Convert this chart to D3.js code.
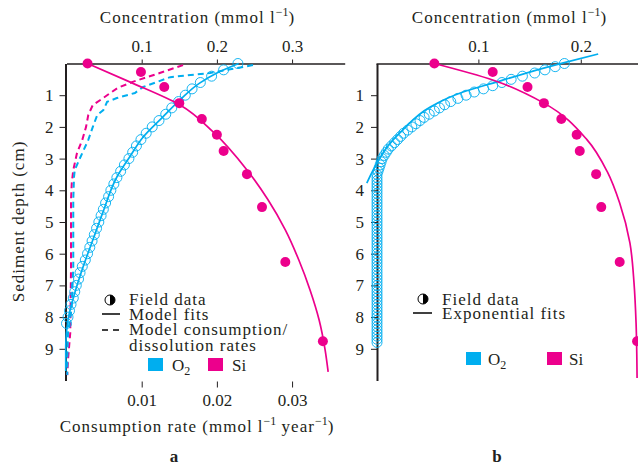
<!DOCTYPE html>
<html>
<head>
<meta charset="utf-8">
<script src="https://cdn.jsdelivr.net/npm/d3@7"></script>
<style>
  body { margin: 0; background: #fff; }
</style>
</head>
<body>
<svg id="chart" width="638" height="468"></svg>
<script>
const O2_COLOR = '#00aeef';
const SI_COLOR = '#ec008c';
const INK = '#231f20';
const SERIF = '"Liberation Serif", "DejaVu Serif", serif';

// --- Data (depth in cm, concentration in mmol/l, rate in mmol/l/yr) ---
const depthTicks = [1, 2, 3, 4, 5, 6, 7, 8, 9];
const concTicksA = [0.1, 0.2, 0.3];
const concTicksB = [0.1, 0.2];
const rateTicks = [0.01, 0.02, 0.03];

// Si field data (same sampling depths in both cores)
const siDepth = [0, 0.27, 0.74, 1.25, 1.75, 2.25, 2.76, 3.49, 4.53, 6.26, 8.76];
const siConcA = [0.028, 0.099, 0.130, 0.150, 0.180, 0.200, 0.209, 0.240, 0.260, 0.291, 0.341];
const siConcB = [0.057, 0.114, 0.148, 0.164, 0.181, 0.196, 0.199, 0.215, 0.220, 0.238, 0.255];

// O2 field data, panel a
const o2DepthA = [0, 0.2, 0.4, 0.6, 0.8, 1.0, 1.2, 1.4, 1.6, 1.8, 2.0, 2.2, 2.4, 2.6, 2.8,
  3.0, 3.2, 3.4, 3.6, 3.8, 4.0, 4.2, 4.4, 4.6, 4.8, 5.0, 5.2, 5.4, 5.6, 5.8,
  6.0, 6.2, 6.4, 6.6, 6.8, 7.0, 7.2, 7.4, 7.6, 7.8, 8.0, 8.2];
const o2ConcA = [0.228, 0.209, 0.193, 0.178, 0.167, 0.158, 0.149, 0.140, 0.132, 0.123, 0.114, 0.106, 0.099, 0.093, 0.088,
  0.083, 0.077, 0.072, 0.067, 0.063, 0.059, 0.056, 0.052, 0.049, 0.046, 0.043, 0.040, 0.037, 0.034, 0.031,
  0.028, 0.025, 0.021, 0.018, 0.016, 0.013, 0.011, 0.009, 0.006, 0.004, 0.002, 0.000];

// O2 field data, panel b
const o2DepthB = [0, 0.1, 0.2, 0.3, 0.4, 0.5, 0.6, 0.7, 0.8, 0.9, 1.0, 1.1, 1.2, 1.3, 1.4, 1.5, 1.6, 1.7, 1.8, 1.9,
  2.0, 2.1, 2.2, 2.3, 2.4, 2.5, 2.6, 2.7, 2.8, 2.9, 3.0, 3.1, 3.2, 3.3, 3.4, 3.5, 3.6, 3.7, 3.8, 3.9,
  4.0, 4.1, 4.2, 4.3, 4.4, 4.5, 4.6, 4.7, 4.8, 4.9, 5.0, 5.1, 5.2, 5.3, 5.4, 5.5, 5.6, 5.7, 5.8, 5.9,
  6.0, 6.1, 6.2, 6.3, 6.4, 6.5, 6.6, 6.7, 6.8, 6.9, 7.0, 7.1, 7.2, 7.3, 7.4, 7.5, 7.6, 7.7, 7.8, 7.9,
  8.0, 8.1, 8.2, 8.3, 8.4, 8.5, 8.6, 8.7, 8.8];
const o2ConcB = [0.184, 0.175, 0.165, 0.155, 0.143, 0.132, 0.123, 0.114, 0.105, 0.096, 0.088, 0.080, 0.073, 0.067, 0.062, 0.057, 0.052, 0.047, 0.043, 0.039,
  0.035, 0.031, 0.027, 0.024, 0.021, 0.018, 0.015, 0.012, 0.010, 0.008, 0.006, 0.005, 0.004, 0.003, 0.002, 0.001, 0.001, 0.001, 0.001, 0.001,
  0.001, 0.001, 0.001, 0.001, 0.001, 0.001, 0.001, 0.001, 0.001, 0.001, 0.001, 0.001, 0.001, 0.001, 0.001, 0.001, 0.001, 0.001, 0.001, 0.001,
  0.001, 0.001, 0.001, 0.001, 0.001, 0.001, 0.001, 0.001, 0.001, 0.001, 0.001, 0.001, 0.001, 0.001, 0.001, 0.001, 0.001, 0.001, 0.001, 0.001,
  0.001, 0.001, 0.001, 0.001, 0.001, 0.001, 0.001, 0.001, 0.001];

// Model fits, panel a
const siFitDepthA = [0, 0.58, 1.31, 2.16, 3.36, 4.30, 5.25, 6.20, 7.15, 8.09, 9.04, 9.73];
const siFitConcA = [0.028, 0.084, 0.151, 0.195, 0.240, 0.268, 0.291, 0.309, 0.324, 0.336, 0.344, 0.348];
const o2FitDepthA = [0, 0.3, 0.62, 1.15, 1.69, 2.32, 2.95, 3.58, 4.72, 5.57, 6.42, 7.24, 8.09, 8.9, 9.7];
const o2FitConcA = [0.229, 0.200, 0.177, 0.151, 0.128, 0.102, 0.084, 0.067, 0.048, 0.035, 0.022, 0.011, 0.002, -0.001, -0.001];

// Model consumption / dissolution rates, panel a (bottom axis)
const siRateDepth = [0.05, 0.3, 0.58, 0.77, 1.15, 1.31, 1.62, 2.0, 2.41, 2.82, 3.36, 3.77, 4.31, 6.42, 8.5, 9.35, 9.83];
const siRate = [0.0155, 0.0124, 0.0088, 0.0068, 0.0045, 0.0035, 0.0029, 0.0026, 0.0021, 0.0014, 0.0009, 0.0007, 0.0006, 0.0006, 0.0005, 0.0002, 0.0001];
const o2RateDepth = [0.05, 0.3, 0.43, 0.74, 0.93, 1.09, 1.21, 1.47, 1.62, 2.0, 2.41, 2.98, 3.36, 3.58, 4.31, 6.42, 7.68, 8.5, 9.35, 9.83];
const o2Rate = [0.0248, 0.0191, 0.0138, 0.0102, 0.0091, 0.0067, 0.0054, 0.0049, 0.0041, 0.0035, 0.0029, 0.0018, 0.0011, 0.0010, 0.0009, 0.0009, 0.0007, 0.0002, 0.0001, 0.0001];

// Exponential fits, panel b
const siFitDepthB = [0, 0.52, 1.25, 2.4, 3.42, 4.4, 5.66, 6.92, 8.18, 9.92];
const siFitConcB = [0.057, 0.114, 0.164, 0.206, 0.226, 0.238, 0.248, 0.252, 0.254, 0.255];
const o2FitDepthB = [-0.30, -0.02, 0.27, 0.58, 0.90, 1.37, 2.10, 2.63, 3.14, 3.77];
const o2FitConcB = [0.217, 0.183, 0.150, 0.118, 0.085, 0.053, 0.026, 0.011, 0.001, -0.009];

// --- Scales ---
const svg = d3.select('#chart').style('font-family', SERIF);
svg.append('rect').attr('width', 638).attr('height', 468).attr('fill', '#fff');

const yDepth = d3.scaleLinear().domain([0, 10]).range([63.5, 380.5]);
const xConcA = d3.scaleLinear().domain([0, 0.37]).range([66.5, 344.7]);
const xRateA = d3.scaleLinear().domain([0, 0.037]).range([66.5, 344.7]);
const xConcB = d3.scaleLinear().domain([0, 0.2559]).range([376, 638]);

const zip = (xs, ys) => xs.map((x, i) => [x, ys[i]]);

function txt(g) {
  return g.append('text').style('font-family', SERIF).attr('fill', INK).attr('font-size', 17);
}

// text with super/subscripts: parts = [[text, 'sup'|'sub'|null], ...]
function richText(parts, attrs) {
  const t = txt(svg);
  Object.entries(attrs).forEach(([k, v]) => t.attr(k, v));
  let shift = 0;
  for (const [s, kind] of parts) {
    const target = kind === 'sup' ? -7 : kind === 'sub' ? 4 : 0;
    const sp = t.append('tspan').text(s).attr('dy', target - shift);
    if (kind) sp.attr('font-size', 12).style('letter-spacing', '0px');
    shift = target;
  }
  return t;
}

function styleAxis(g, width) {
  g.attr('font-family', null);
  g.select('.domain').attr('stroke', INK).attr('stroke-width', width);
  g.selectAll('.tick line').attr('stroke', INK).attr('stroke-width', 1);
  g.selectAll('.tick text').attr('font-size', 17).style('font-family', SERIF).attr('fill', INK);
}

function drawPanel(xConc, concTicks, axisX, labelPad, titleX) {
  const gl = svg.append('g').attr('transform', `translate(${axisX},0)`)
    .call(d3.axisLeft(yDepth).tickValues(depthTicks).tickSize(6).tickSizeOuter(0).tickPadding(labelPad));
  styleAxis(gl, 2);
  const gt = svg.append('g').attr('transform', 'translate(0,63.5)')
    .call(d3.axisTop(xConc).tickValues(concTicks).tickFormat(d3.format('.1f')).tickSize(4).tickSizeOuter(0).tickPadding(7.5));
  styleAxis(gt, 1.5);
  richText([['Concentration (mmol l', null], ['−1', 'sup'], [')', null]],
    { x: titleX, y: 23, 'text-anchor': 'middle', 'letter-spacing': '1px' });
}

drawPanel(xConcA, concTicksA, 65.5, 6, 197.5);
drawPanel(xConcB, concTicksB, 377, 7, 509.5);

// bottom rate axis (panel a), no axis line
const gb = svg.append('g').attr('transform', 'translate(0,381.5)')
  .call(d3.axisBottom(xRateA).tickValues(rateTicks).tickFormat(d3.format('.2f')).tickSize(6).tickPadding(6.5));
styleAxis(gb, 1);
gb.select('.domain').remove();
richText([['Consumption rate (mmol l', null], ['−1', 'sup'], [' year', null], ['−1', 'sup'], [')', null]],
  { x: 197, y: 432, 'text-anchor': 'middle', 'letter-spacing': '1px' });

txt(svg).attr('transform', 'translate(24,221.5) rotate(-90)')
  .attr('text-anchor', 'middle').attr('letter-spacing', '1px')
  .text('Sediment depth (cm)');

txt(svg).attr('x', 174).attr('y', 462).attr('text-anchor', 'middle').attr('font-weight', 'bold').text('a');
txt(svg).attr('x', 497).attr('y', 462).attr('text-anchor', 'middle').attr('font-weight', 'bold').text('b');

// --- Marks ---
const rateLine = d3.line().x(d => xRateA(d[0])).y(d => yDepth(d[1]));
const lineA = d3.line().curve(d3.curveMonotoneY).x(d => xConcA(d[0])).y(d => yDepth(d[1]));
const lineB = d3.line().curve(d3.curveMonotoneY).x(d => xConcB(d[0])).y(d => yDepth(d[1]));

// dashed rates
svg.append('path').attr('d', rateLine(zip(siRate, siRateDepth)))
  .attr('fill', 'none').attr('stroke', SI_COLOR).attr('stroke-width', 2).attr('stroke-dasharray', '6,4');
svg.append('path').attr('d', rateLine(zip(o2Rate, o2RateDepth)))
  .attr('fill', 'none').attr('stroke', O2_COLOR).attr('stroke-width', 2).attr('stroke-dasharray', '6,4');

function o2Circles(xs, ds, x) {
  svg.append('g').selectAll('circle').data(zip(xs, ds)).join('circle')
    .attr('cx', d => x(d[0])).attr('cy', d => yDepth(d[1])).attr('r', 5)
    .attr('fill', 'none').attr('stroke', O2_COLOR).attr('stroke-width', 0.9);
}
function siDots(xs, ds, x) {
  svg.append('g').selectAll('circle').data(zip(xs, ds)).join('circle')
    .attr('cx', d => x(d[0])).attr('cy', d => yDepth(d[1])).attr('r', 5)
    .attr('fill', SI_COLOR);
}
function fit(gen, xs, ds, color) {
  svg.append('path').attr('d', gen(zip(xs, ds)))
    .attr('fill', 'none').attr('stroke', color).attr('stroke-width', 1.7);
}

o2Circles(o2ConcA, o2DepthA, xConcA);
fit(lineA, o2FitConcA, o2FitDepthA, O2_COLOR);
fit(lineA, siFitConcA, siFitDepthA, SI_COLOR);
siDots(siConcA, siDepth, xConcA);

o2Circles(o2ConcB, o2DepthB, xConcB);
fit(lineB, o2FitConcB, o2FitDepthB, O2_COLOR);
fit(lineB, siFitConcB, siFitDepthB, SI_COLOR);
siDots(siConcB, siDepth, xConcB);

// --- Legends ---
function fieldIcon(cx, cy) {
  const r = 5;
  svg.append('circle').attr('cx', cx).attr('cy', cy).attr('r', r)
    .attr('fill', '#fff').attr('stroke', '#000').attr('stroke-width', 1);
  svg.append('path').attr('d', `M${cx},${cy - r}A${r},${r} 0 0 1 ${cx},${cy + r}Z`).attr('fill', '#000');
}
function legendText(x, y, s) {
  txt(svg).attr('x', x).attr('y', y).attr('letter-spacing', '1px').text(s);
}
function swatches(x0, x1, y, labelDx) {
  svg.append('rect').attr('x', x0).attr('y', y - 13).attr('width', 15).attr('height', 13).attr('fill', O2_COLOR);
  richText([['O', null], ['2', 'sub']], { x: x0 + labelDx, y: y });
  svg.append('rect').attr('x', x1).attr('y', y - 13).attr('width', 15).attr('height', 13).attr('fill', SI_COLOR);
  txt(svg).attr('x', x1 + labelDx).attr('y', y).text('Si');
}

// panel a
fieldIcon(110, 300);
legendText(129, 305, 'Field data');
svg.append('line').attr('x1', 102).attr('x2', 120).attr('y1', 314).attr('y2', 314).attr('stroke', '#000').attr('stroke-width', 1.5);
legendText(129, 320, 'Model fits');
svg.append('line').attr('x1', 102).attr('x2', 120).attr('y1', 330).attr('y2', 330)
  .attr('stroke', '#000').attr('stroke-width', 1.5).attr('stroke-dasharray', '6,5');
legendText(129, 335, 'Model consumption/');
legendText(129, 351, 'dissolution rates');
swatches(148, 208, 371, 24);

// panel b
fieldIcon(423, 299);
legendText(442, 305, 'Field data');
svg.append('line').attr('x1', 413).attr('x2', 432).attr('y1', 313).attr('y2', 313).attr('stroke', '#000').attr('stroke-width', 1.5);
legendText(442, 319, 'Exponential fits');
swatches(466, 547, 365, 22);
</script>
</body>
</html>
